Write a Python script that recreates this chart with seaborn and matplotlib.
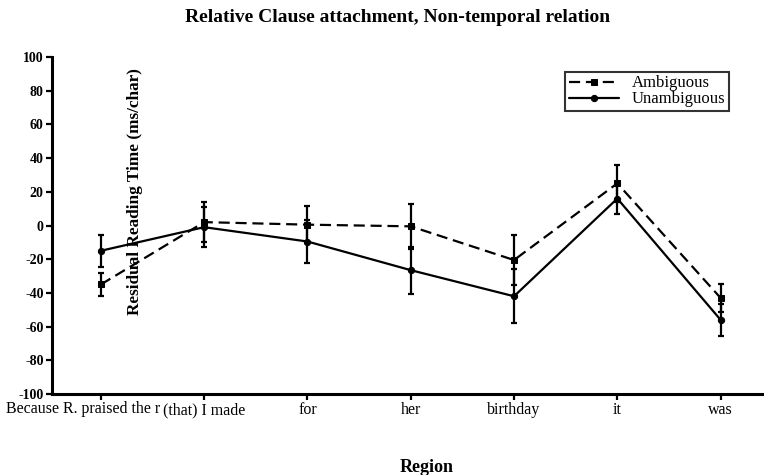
import matplotlib
matplotlib.use("Agg")
import matplotlib.pyplot as plt
import numpy as np
import pandas as pd
import seaborn as sns

# Regions of the sentence
regions = ["Because R. praised the r", "(that) I made", "for", "her", "birthday", "it", "was"]

# Mean residual reading times (ms/char) and error-bar half widths
ambiguous = [-35, 2, 0.5, -0.5, -20.5, 25, -43]
ambiguous_err = [7, 12, 11, 13.5, 15, 11, 8.5]
unambiguous = [-15, -1, -9.5, -26.5, -42, 16, -56]
unambiguous_err = [9.5, 12, 13, 14, 16, 9, 9.5]

yticks = [-100, -80, -60, -40, -20, 0, 20, 40, 60, 80, 100]

sns.set_theme(style="white")
plt.rcParams["font.family"] = ["Liberation Serif", "DejaVu Serif"]
plt.rcParams.update({
    "text.color": "black",
    "axes.labelcolor": "black",
    "xtick.color": "black",
    "ytick.color": "black",
    "legend.labelcolor": "black",
})

fig = plt.figure(figsize=(7.64, 4.75), dpi=100)
ax = fig.add_axes([52 / 764, 1 - 394 / 475, 1 - 52 / 764, (394 - 57) / 475])

x = np.arange(len(regions))
df = pd.DataFrame({
    "pos": np.concatenate([x, x]),
    "value": ambiguous + unambiguous,
    "condition": ["Ambiguous"] * len(x) + ["Unambiguous"] * len(x),
})

sns.lineplot(data=df[df.condition == "Ambiguous"], x="pos", y="value", ax=ax,
             color="black", linewidth=1.6, marker="s", markersize=4.5,
             markeredgecolor="black", label="Ambiguous")
ax.lines[-1].set_dashes((5, 2.6))
sns.lineplot(data=df[df.condition == "Unambiguous"], x="pos", y="value", ax=ax,
             color="black", linewidth=1.6, marker="o", markersize=4.5,
             markeredgecolor="black", label="Unambiguous")

ax.errorbar(x, ambiguous, yerr=ambiguous_err, fmt="none", ecolor="black",
            elinewidth=1.6, capsize=2.5, capthick=1.6)
ax.errorbar(x, unambiguous, yerr=unambiguous_err, fmt="none", ecolor="black",
            elinewidth=1.6, capsize=2.5, capthick=1.6)

ax.set_xlim(-0.473, 6.42)
ax.set_ylim(-100, 100)
ax.set_yticks(yticks)
ax.set_yticklabels([str(v) for v in yticks], fontsize=10, fontweight="bold")
ax.set_xticks(x)
ax.set_xticklabels([""] + regions[1:], fontsize=11.5)

# The long first region label starts at the left edge of the figure
ax.annotate(regions[0], xy=(0, 0), xycoords=("data", "axes fraction"),
            xytext=(-68, -5), textcoords="offset points",
            ha="left", va="top", fontsize=11.5, color="black")

for side in ["top", "right"]:
    ax.spines[side].set_visible(False)
for side in ["left", "bottom"]:
    ax.spines[side].set_linewidth(2.2)
    ax.spines[side].set_color("black")
ax.tick_params(axis="both", direction="out", length=4, width=1.6, color="black",
               labelcolor="black", left=True, bottom=True, pad=2)

ax.set_ylabel("Residual Reading Time (ms/char)", fontsize=12.4, fontweight="bold")
ax.yaxis.set_label_coords((143 - 52) / 712, 0.6)
ax.set_xlabel("Region", fontsize=13, fontweight="bold")
ax.xaxis.set_label_coords((427 - 52) / 712, -(459 - 394) / 337)

fig.suptitle("Relative Clause attachment, Non-temporal relation", fontsize=14,
             fontweight="bold", x=398 / 764, y=1 - 17 / 475, va="center")

leg = ax.legend(loc="upper right", bbox_to_anchor=(729 / 764, 1 - 72 / 475),
                bbox_transform=fig.transFigure, fontsize=12, frameon=True,
                fancybox=False, handlelength=3.0, borderpad=0.2,
                labelspacing=0.0, handletextpad=0.8, borderaxespad=0)
leg.get_frame().set_edgecolor("black")
leg.get_frame().set_linewidth(1.5)

fig.savefig("out.png", dpi=100, facecolor="white")
